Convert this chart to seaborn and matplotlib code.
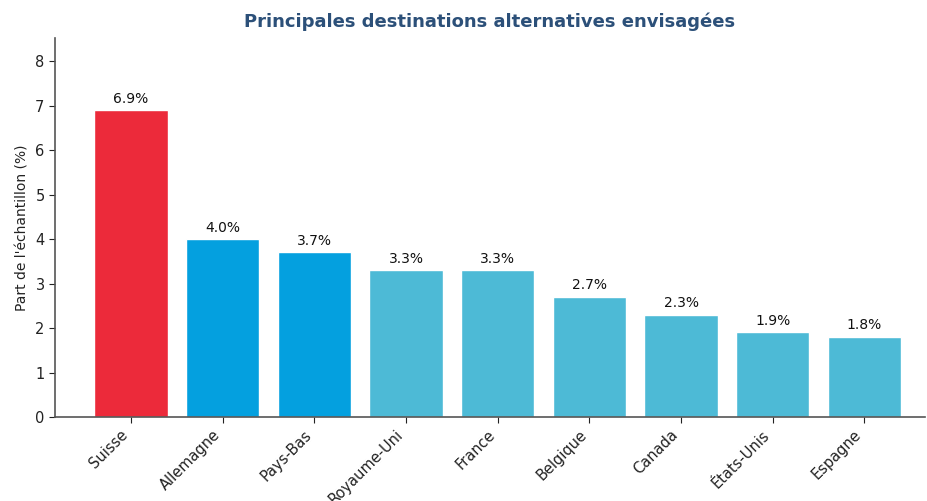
import matplotlib
matplotlib.use("Agg")
import matplotlib.pyplot as plt
import seaborn as sns
import pandas as pd

pays = ["Suisse", "Allemagne", "Pays-Bas", "Royaume-Uni", "France",
        "Belgique", "Canada", "États-Unis", "Espagne"]
parts = [6.9, 4.0, 3.7, 3.3, 3.3, 2.7, 2.3, 1.9, 1.8]
couleurs = ["#EC2A3A", "#04A0DF", "#04A0DF", "#4DBAD6", "#4DBAD6",
            "#4DBAD6", "#4DBAD6", "#4DBAD6", "#4DBAD6"]

df = pd.DataFrame({"pays": pays, "part": parts})

sns.set_style("white")
plt.rcParams['font.family'] = ['DejaVu Sans']

fig = plt.figure(figsize=(9.27, 5.01), dpi=100)
ax = fig.add_axes([55 / 927, 84 / 501, 870 / 927, 379 / 501])
sns.barplot(data=df, x="pays", y="part", hue="pays", palette=couleurs,
            legend=False, width=0.8, saturation=1, ax=ax)

for i, v in enumerate(parts):
    ax.text(i, v + 0.1, f"{v:.1f}%", ha="center", va="bottom", fontsize=10, color="#111111")

ax.set_ylim(0, 8.52)
ax.set_xlim(-0.83, 8.66)
ax.set_xlabel("")
ax.set_ylabel("Part de l'échantillon (%)", fontsize=10, color="#222222")
ax.set_title("Principales destinations alternatives envisagées",
             fontsize=13, fontweight="bold", color="#2C5079", pad=8)
plt.xticks(rotation=45, ha="right")
ax.tick_params(axis="both", labelsize=10.5, colors="#222222", length=4, left=True, bottom=True)
for s in ["top", "right"]:
    ax.spines[s].set_visible(False)
for s in ["left", "bottom"]:
    ax.spines[s].set_color("#555555")
    ax.spines[s].set_linewidth(1.2)

fig.savefig("out.png", dpi=100)
